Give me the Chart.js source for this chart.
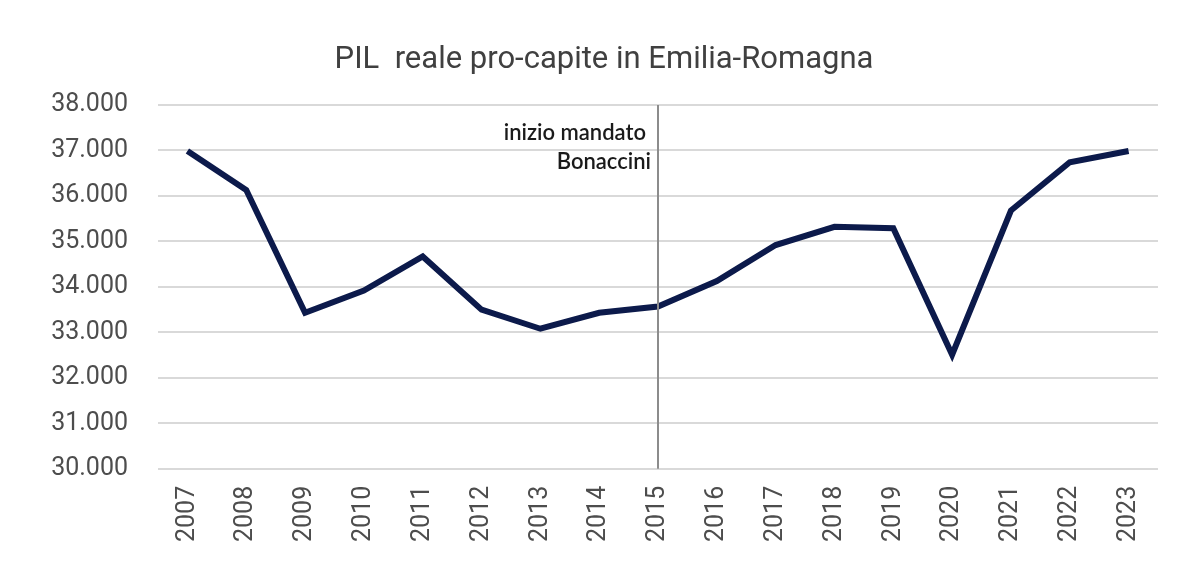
<!DOCTYPE html>
<html>
<head>
<meta charset="utf-8">
<script src="https://cdn.jsdelivr.net/npm/chart.js@4"></script>
<style>
  html, body { margin: 0; padding: 0; background: #fff; }
  #wrap { width: 1200px; height: 567px; }
</style>
</head>
<body>
<div id="wrap"><canvas id="chart" width="1200" height="567"></canvas></div>
<script>
// data
var years = ["2007","2008","2009","2010","2011","2012","2013","2014","2015",
             "2016","2017","2018","2019","2020","2021","2022","2023"];
var pilProCapite = [36990, 36130, 33430, 33920, 34670, 33500, 33080, 33430, 33570,
                    34130, 34920, 35320, 35290, 32510, 35680, 36740, 36990];
var titleText = 'PIL  reale pro-capite in Emilia-Romagna';
var markerYear = "2015";
var markerText = ["inizio mandato", "Bonaccini"];

function fmt(v){
    // italian thousands separator
    return String(v).replace(/\B(?=(\d{3})+(?!\d))/g, ".");
}

// title drawn by hand so it sits centred on the whole picture
var titlePlugin = {
    id: 'pageTitle',
    afterDraw: function(chart){
        var ctx = chart.ctx;
        ctx.save();
        ctx.fillStyle = '#404040';
        ctx.font = '31px Roboto, sans-serif';
        ctx.textAlign = 'center';
        ctx.textBaseline = 'middle';
        ctx.fillText(titleText, chart.width / 2 + 4, 60);
        ctx.restore();
    }
};

// vertical line + label at the start of the mandate
var markerPlugin = {
    id: 'marker',
    afterDatasetsDraw: function(chart){
        var ctx = chart.ctx;
        var x = chart.scales.x.getPixelForValue(years.indexOf(markerYear));
        var top = chart.chartArea.top, bottom = chart.chartArea.bottom;
        ctx.save();
        ctx.strokeStyle = '#8c8c8c';
        ctx.lineWidth = 2;
        ctx.beginPath();
        ctx.moveTo(x, top);
        ctx.lineTo(x, bottom);
        ctx.stroke();
        ctx.fillStyle = '#1a1a1a';
        ctx.font = '600 22px Lato, "Open Sans", sans-serif';
        ctx.textAlign = 'right';
        ctx.textBaseline = 'middle';
        ctx.fillText(markerText[0], x - 12, top + 28);
        ctx.fillText(markerText[1], x - 7, top + 57);
        ctx.restore();
    }
};

new Chart(document.getElementById('chart'), {
    type: 'line',
    data: {
        labels: years,
        datasets: [{
            data: pilProCapite,
            borderColor: '#0c1a4b',
            borderWidth: 6,
            pointRadius: 0,
            tension: 0,
            fill: false
        }]
    },
    options: {
        responsive: false,
        animation: false,
        layout: { padding: { left: 20, right: 42, top: 105, bottom: 8 } },
        plugins: {
            legend: { display: false },
            tooltip: { enabled: false },
            title: { display: false }
        },
        scales: {
            x: {
                offset: true,
                grid: { display: false, drawTicks: false },
                border: { display: false },
                ticks: {
                    color: '#4d4d4d',
                    font: { family: 'Roboto, sans-serif', size: 25 },
                    maxRotation: 90,
                    minRotation: 90,
                    padding: 17
                }
            },
            y: {
                min: 30000,
                max: 38000,
                grid: { color: '#d9d9d9', lineWidth: 2, drawTicks: false },
                border: { display: false },
                ticks: {
                    stepSize: 1000,
                    color: '#4d4d4d',
                    font: { family: 'Roboto, sans-serif', size: 25 },
                    padding: 30,
                    callback: function(v){ return fmt(v); }
                },
                afterFit: function(scale){ scale.width = 138; }
            }
        }
    },
    plugins: [titlePlugin, markerPlugin]
});
</script>
</body>
</html>
